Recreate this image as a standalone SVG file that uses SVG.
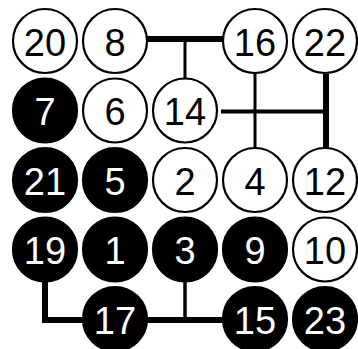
<svg xmlns="http://www.w3.org/2000/svg" width="358" height="349" viewBox="0 0 358 349">
<style>
.w circle{fill:#fff;stroke:#000;stroke-width:2.2}
.b circle{fill:#000;stroke:#000;stroke-width:2.2}
text{font-family:"Liberation Sans",Arial,sans-serif;font-size:38px;text-anchor:middle}
.w text{fill:#000}
.b text{fill:#fff}
#edges line,#edges polyline{stroke:#000;fill:none;stroke-linecap:butt}
</style>
<rect width="358" height="349" fill="#fff"/>
<g id="edges">
<line x1="147" y1="39" x2="223" y2="39" stroke-width="6"/>
<line x1="185" y1="39" x2="185" y2="79" stroke-width="3"/>
<line x1="221" y1="111.5" x2="328" y2="111.5" stroke-width="4"/>
<line x1="255" y1="74" x2="255" y2="148" stroke-width="3"/>
<line x1="326" y1="74" x2="326" y2="148" stroke-width="6"/>
<polyline points="45,282 45,320 84,320" stroke-width="6"/>
<line x1="146" y1="320" x2="224" y2="320" stroke-width="6"/>
<line x1="185" y1="282" x2="185" y2="320" stroke-width="3.5"/>
</g>
<g id="n20" class="w"><circle cx="45" cy="41" r="32"/><text x="45" y="55.5">20</text></g>
<g id="n8" class="w"><circle cx="115" cy="41" r="32"/><text x="115" y="55.5">8</text></g>
<g id="n16" class="w"><circle cx="255" cy="41" r="32"/><text x="255" y="55.5">16</text></g>
<g id="n22" class="w"><circle cx="325" cy="41" r="32"/><text x="325" y="55.5">22</text></g>
<g id="n7" class="b"><circle cx="45" cy="110.5" r="32"/><text x="45" y="125">7</text></g>
<g id="n6" class="w"><circle cx="115" cy="110.5" r="32"/><text x="115" y="125">6</text></g>
<g id="n14" class="w"><circle cx="185" cy="110.5" r="32"/><text x="185" y="125">14</text></g>
<g id="n21" class="b"><circle cx="45" cy="180" r="32"/><text x="45" y="194.5">21</text></g>
<g id="n5" class="b"><circle cx="115" cy="180" r="32"/><text x="115" y="194.5">5</text></g>
<g id="n2" class="w"><circle cx="185" cy="180" r="32"/><text x="185" y="194.5">2</text></g>
<g id="n4" class="w"><circle cx="255" cy="180" r="32"/><text x="255" y="194.5">4</text></g>
<g id="n12" class="w"><circle cx="325" cy="180" r="32"/><text x="325" y="194.5">12</text></g>
<g id="n19" class="b"><circle cx="45" cy="249.5" r="32"/><text x="45" y="264">19</text></g>
<g id="n1" class="b"><circle cx="115" cy="249.5" r="32"/><text x="115" y="264">1</text></g>
<g id="n3" class="b"><circle cx="185" cy="249.5" r="32"/><text x="185" y="264">3</text></g>
<g id="n9" class="b"><circle cx="255" cy="249.5" r="32"/><text x="255" y="264">9</text></g>
<g id="n10" class="w"><circle cx="325" cy="249.5" r="32"/><text x="325" y="264">10</text></g>
<g id="n17" class="b"><circle cx="115" cy="319" r="32"/><text x="115" y="333.5">17</text></g>
<g id="n15" class="b"><circle cx="255" cy="319" r="32"/><text x="255" y="333.5">15</text></g>
<g id="n23" class="b"><circle cx="325" cy="319" r="32"/><text x="325" y="333.5">23</text></g>
</svg>
